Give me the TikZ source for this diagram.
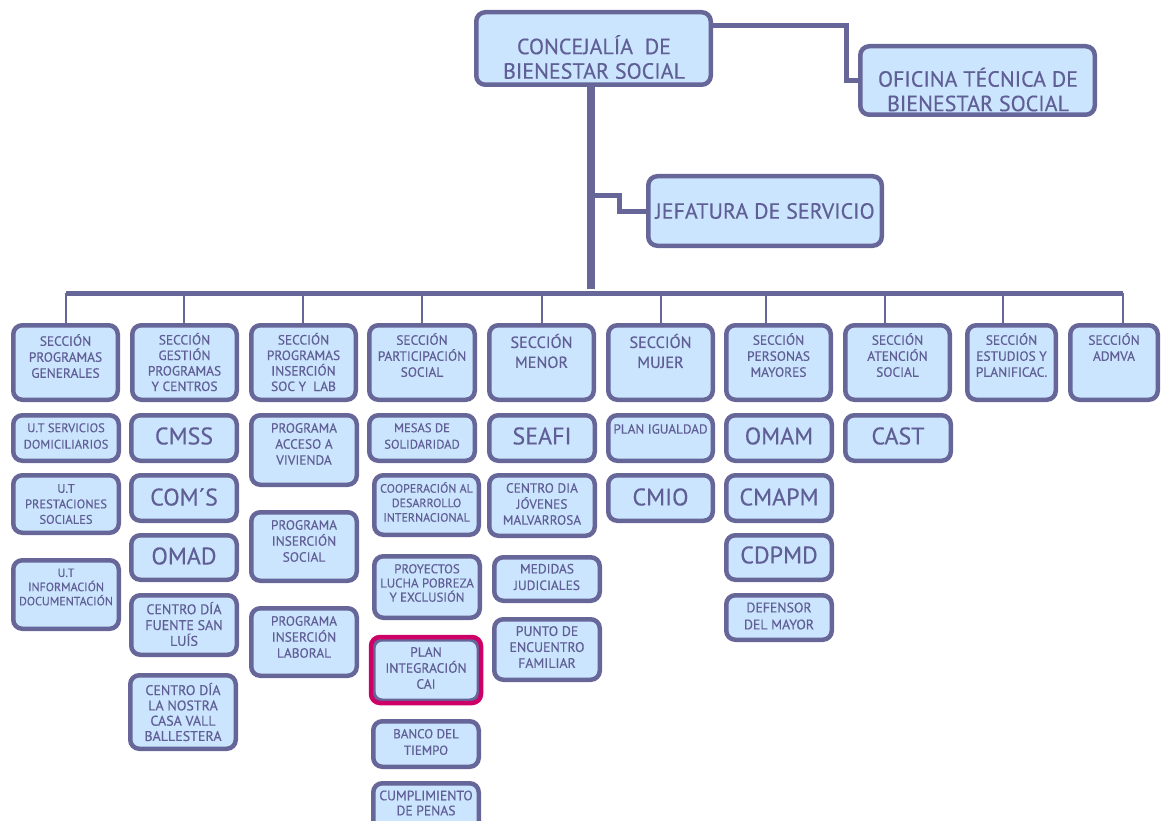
\documentclass[tikz,border=0pt]{standalone}
\usepackage{fontspec}
\setmainfont{PT Sans}[FakeBold=0.4]

\definecolor{linec}{HTML}{666699}
\definecolor{boxfill}{HTML}{CCE5FF}
\definecolor{txtc}{HTML}{5F5F96}
\definecolor{caired}{HTML}{CC0066}

\tikzset{
    cellbox/.style={draw=linec, fill=boxfill, line width=4.5pt, rounded corners=9pt, inner sep=0pt},
    celltxt/.style={text=txtc, align=center, inner sep=0pt},
    headtxt/.style={celltxt, font=\fontsize{22}{24.5}\selectfont},
    link/.style={draw=linec, line width=5pt},
    trunk/.style={draw=linec, line width=8pt},
    drop/.style={draw=linec, line width=2pt}
}

% box from (x1,y1) to (x2,y2), text centred at height ty
% #1 name, #2 x1, #3 y1, #4 x2, #5 y2, #6 ty, #7 font size, #8 line skip, #9 text
\newcommand{\unitbox}[9]{%
    \node[cellbox, minimum width={#4-#2-4.5}, minimum height={#5-#3-4.5}] (#1) at ({(#2+#4)/2},{(#3+#5)/2}) {};
    \node[celltxt, font=\fontsize{#7}{#8}\selectfont] (#1-t) at ({(#2+#4)/2},#6) {#9};
}

\begin{document}
\begin{tikzpicture}[x=1pt,y=-1pt]

    \useasboundingbox (0,0) rectangle (1161,821);

    % Top boxes
    \node[cellbox, minimum width=234.5, minimum height=72.5] (title) at (593.5,48.5) {};
    \node[headtxt] (title-t) at (594,57) {CONCEJALÍA\ \ DE\\BIENESTAR SOCIAL};
    \node[cellbox, minimum width=234.5, minimum height=68.5] (ofi) at (977.5,80.5) {};
    \node[headtxt] (ofi-t) at (978,89.5) {OFICINA TÉCNICA DE\\BIENESTAR SOCIAL};
    \node[cellbox, minimum width=233.5, minimum height=69.5] (jef) at (765,211) {};
    \node[headtxt] (jef-t) at (765,211) {JEFATURA DE SERVICIO};

    % Links from the top box
    \coordinate (ok) at (846,26);
    \coordinate (jk) at (619,196);
    \coordinate (busL) at (66,293);
    \coordinate (busR) at (1123,293);
    \draw[link] (title.east |- ok) -- (ok) |- (ofi.west);
    \draw[trunk] ([xshift=-2.5pt]title.south) -- ([xshift=-2.5pt,yshift=4pt]title.south |- busL);
    \draw[link] (jk -| title.south) -- (jk) |- (jef.west);
    \draw[link] (busL) -- (busR);

    % Sections
    \unitbox{sec1}{11}{323}{120}{402}{356}{13.4}{16}{SECCIÓN\\PROGRAMAS\\GENERALES}
    \unitbox{sec2}{130}{323}{239}{402}{362}{13.4}{15.5}{SECCIÓN\\GESTIÓN\\PROGRAMAS\\Y CENTROS}
    \unitbox{sec3}{249}{323}{358}{402}{362}{13.4}{15.5}{SECCIÓN\\PROGRAMAS\\INSERCIÓN\\SOC Y\ \ LAB}
    \unitbox{sec4}{367}{323}{477}{402}{355}{13.4}{16}{SECCIÓN\\PARTICIPACIÓN\\SOCIAL}
    \unitbox{sec5}{487}{323}{596}{402}{351}{16.2}{20}{SECCIÓN\\MENOR}
    \unitbox{sec6}{606}{323}{715}{402}{351}{16.2}{20}{SECCIÓN\\MUJER}
    \unitbox{sec7}{724}{323}{833}{402}{355}{13.4}{16}{SECCIÓN\\PERSONAS\\MAYORES}
    \unitbox{sec8}{843}{323}{952}{402}{355}{13.4}{16}{SECCIÓN\\ATENCIÓN\\SOCIAL}
    \unitbox{sec9}{965}{323}{1058}{402}{355}{13.4}{16}{SECCIÓN\\ESTUDIOS Y\\PLANIFICAC.}
    \unitbox{sec10}{1068}{323}{1160}{402}{347}{13.4}{16}{SECCIÓN\\ADMVA}

    % Drops from the bus
    \foreach \num/\x in {1/66, 2/184, 3/303, 4/422, 5/542, 6/661, 7/766, 8/885, 9/1003, 10/1123}
    {
        \draw[drop] (busL -| \x,0) -- (sec\num.north -| \x,0);
    }

    % Programas generales
    \unitbox{a1}{11}{413}{121}{463}{436}{12.5}{16.5}{U.T SERVICIOS\\DOMICILIARIOS}
    \unitbox{a2}{11}{473}{121}{535}{504}{12.5}{15.5}{U.T\\PRESTACIONES\\SOCIALES}
    \unitbox{a3}{11}{558}{121}{631}{587}{12}{14.2}{U.T\\INFORMACIÓN\\DOCUMENTACIÓN}

    % Gestion programas y centros
    \unitbox{b1}{129}{413}{239}{463}{436}{24}{28}{CMSS}
    \unitbox{b2}{129}{473}{239}{523}{497}{24}{28}{COM´S}
    \unitbox{b3}{129}{533}{239}{582}{556}{24}{28}{OMAD}
    \unitbox{b4}{129}{593}{239}{657}{624}{14}{15.8}{CENTRO DÍA\\FUENTE SAN\\LUÍS}
    \unitbox{b5}{128}{673}{238}{751}{712}{14}{15.3}{CENTRO DÍA\\LA NOSTRA\\CASA VALL\\BALLESTERA}

    % Programas insercion
    \unitbox{c1}{249}{413}{359}{487}{444}{13.4}{16}{PROGRAMA\\ACCESO A\\VIVIENDA}
    \unitbox{c2}{249}{510}{359}{583}{541}{13.4}{16}{PROGRAMA\\INSERCIÓN\\SOCIAL}
    \unitbox{c3}{249}{606}{359}{678}{637}{13.4}{16}{PROGRAMA\\INSERCIÓN\\LABORAL}

    % Participacion social
    \unitbox{d1}{367}{413}{477}{463}{436}{12.6}{16.5}{MESAS DE\\SOLIDARIDAD}
    \unitbox{d2}{372}{473}{481}{537}{502}{12}{14.5}{COOPERACIÓN AL\\DESARROLLO\\INTERNACIONAL}
    \unitbox{d3}{372}{554}{482}{620}{583}{12.8}{14.2}{PROYECTOS\\LUCHA POBREZA\\Y EXCLUSIÓN}
    \unitbox{d4}{371}{637}{481}{703}{668}{13.5}{16}{PLAN\\INTEGRACIÓN\\CAI}
    \draw[cellbox, draw=caired, fill=none] (d4.north west) rectangle (d4.south east);
    \unitbox{d5}{371}{719}{481}{769}{742}{13}{16.5}{BANCO DEL\\TIEMPO}
    \unitbox{d6}{371}{781}{481}{835}{803}{13.6}{15}{CUMPLIMIENTO\\DE PENAS}

    % Menor
    \unitbox{e1}{487}{413}{597}{463}{436}{24}{28}{SEAFI}
    \unitbox{e2}{487}{473}{597}{538}{504}{13.4}{16}{CENTRO DIA\\JÓVENES\\MALVARROSA}
    \unitbox{e3}{492}{555}{602}{603}{577}{13.4}{16.5}{MEDIDAS\\JUDICIALES}
    \unitbox{e4}{492}{617}{602}{682}{647}{13.8}{16}{PUNTO DE\\ENCUENTRO\\FAMILIAR}

    % Mujer
    \unitbox{f1}{606}{413}{715}{463}{429}{13.2}{16}{PLAN IGUALDAD}
    \unitbox{f2}{606}{473}{715}{523}{497}{24}{28}{CMIO}

    % Personas mayores
    \unitbox{g1}{724}{413}{834}{463}{436}{24}{28}{OMAM}
    \unitbox{g2}{724}{473}{834}{523}{497}{24}{28}{CMAPM}
    \unitbox{g3}{724}{533}{834}{582}{555}{24}{28}{CDPMD}
    \unitbox{g4}{724}{593}{834}{642}{616}{13.8}{17}{DEFENSOR\\DEL MAYOR}

    % Atencion social
    \unitbox{h1}{843}{413}{953}{463}{436}{24}{28}{CAST}

\end{tikzpicture}
\end{document}
